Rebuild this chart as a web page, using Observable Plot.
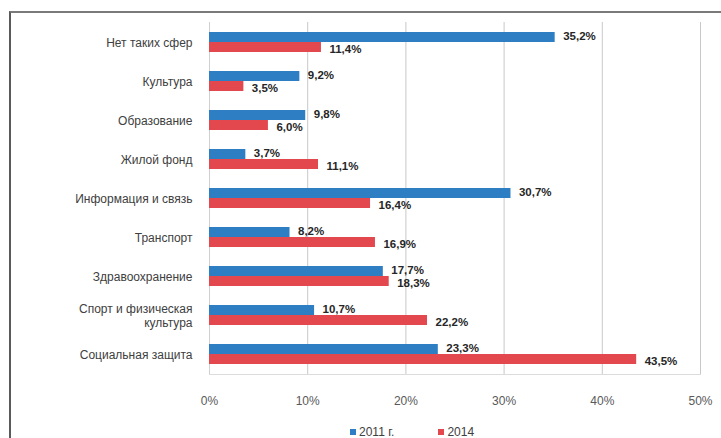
<!DOCTYPE html>
<html>
<head>
<meta charset="utf-8">
<script src="https://cdn.jsdelivr.net/npm/d3@7"></script>
<script src="https://cdn.jsdelivr.net/npm/@observablehq/plot@0.6"></script>
<style>
  html, body { margin: 0; padding: 0; background: #fff; }
  #wrap { position: relative; width: 721px; height: 438px; overflow: hidden; font-family: "Liberation Sans", Arial, sans-serif; }
  #border { position: absolute; left: 9px; top: 11px; width: 760px; height: 460px; border-left: 2px solid #5a5a5a; border-top: 2px solid #7a7a7a; pointer-events: none; }
  #legend { position: absolute; left: 350px; top: 425px; display: flex; gap: 44px; font-size: 12px; color: #404040; }
  #legend span.sw { display: inline-block; width: 6px; height: 6px; margin-right: 3px; vertical-align: 1px; }
</style>
</head>
<body>
<div id="wrap">
  <div id="chart"></div>
  <div id="legend"></div>
  <div id="border"></div>
</div>
<script>
const categories = [
  "Нет таких сфер",
  "Культура",
  "Образование",
  "Жилой фонд",
  "Информация и связь",
  "Транспорт",
  "Здравоохранение",
  "Спорт и физическая культура",
  "Социальная защита"
];
const series = ["2011 г.", "2014"];
const values2011 = [35.2, 9.2, 9.8, 3.7, 30.7, 8.2, 17.7, 10.7, 23.3];
const values2014 = [11.4, 3.5, 6.0, 11.1, 16.4, 16.9, 18.3, 22.2, 43.5];
const xTicks = [0, 10, 20, 30, 40, 50];
const colors = ["#2e7ec4", "#e2484d"];

const d2011 = categories.map((c, i) => ({category: c, series: series[0], value: values2011[i]}));
const d2014 = categories.map((c, i) => ({category: c, series: series[1], value: values2014[i]}));
const fmt = v => d3.format(".1f")(v).replace(".", ",") + "%";
const wrapLabel = c => c === "Спорт и физическая культура" ? "Спорт и физическая\nкультура" : c;

const chart = Plot.plot({
  width: 721,
  height: 422,
  marginLeft: 209,
  marginRight: 21,
  marginTop: 22,
  marginBottom: 48,
  style: {fontFamily: "Liberation Sans, Arial, sans-serif", fontSize: "12px", color: "#404040", background: "transparent"},
  x: {domain: [0, 50], ticks: xTicks, tickFormat: d => d + "%"},
  y: {domain: categories, paddingInner: 0.48, paddingOuter: 0.24},
  marks: [
    Plot.gridX(xTicks.slice(1), {stroke: "#c8c8c8", strokeOpacity: 1}),
    Plot.ruleX([0], {stroke: "#d0d0d0"}),
    Plot.frame({anchor: "bottom", stroke: "#dcdcdc"}),
    Plot.barX(d2011, {x: "value", y: "category", fill: colors[0], insetBottom: 10}),
    Plot.barX(d2014, {x: "value", y: "category", fill: colors[1], insetTop: 10}),
    Plot.text(d2011, {x: "value", y: "category", text: d => fmt(d.value), dx: 8, dy: -6, textAnchor: "start", fontWeight: "bold", fontSize: 11.5, fill: "#262626"}),
    Plot.text(d2014, {x: "value", y: "category", text: d => fmt(d.value), dx: 8, dy: 7, textAnchor: "start", fontWeight: "bold", fontSize: 11.5, fill: "#262626"}),
    Plot.axisX({ticks: xTicks, tickFormat: d => d + "%", tickSize: 0, tickPadding: 22, fill: "#595959", label: null}),
    Plot.axisY({tickSize: 0, tickPadding: 17, tickFormat: wrapLabel, lineHeight: 1.2, fill: "#404040", label: null})
  ]
});
document.getElementById("chart").appendChild(chart);

const legend = document.getElementById("legend");
series.forEach((s, i) => {
  const item = document.createElement("div");
  item.innerHTML = `<span class="sw" style="background:${colors[i]}"></span>${s}`;
  legend.appendChild(item);
});
</script>
</body>
</html>
